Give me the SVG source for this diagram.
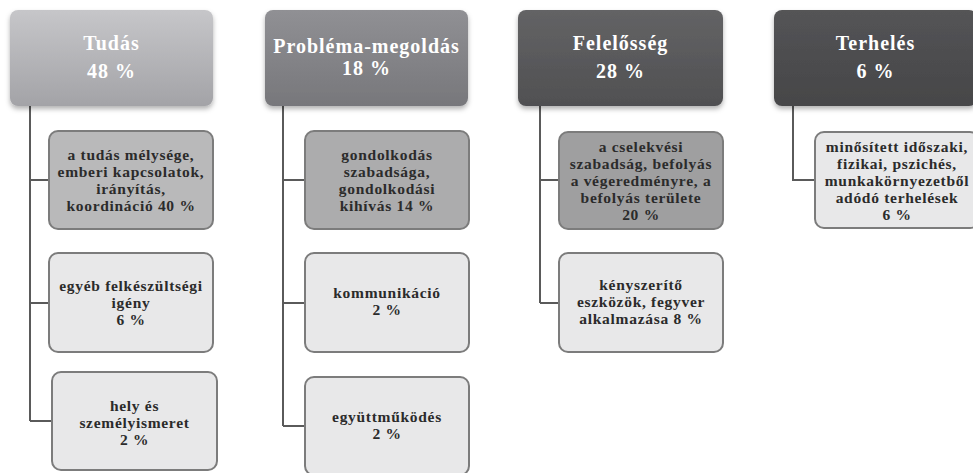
<svg xmlns="http://www.w3.org/2000/svg" width="973" height="473" viewBox="0 0 973 473">
<defs>
<linearGradient id="g1" x1="0" y1="0" x2="0" y2="1"><stop offset="0" stop-color="#c6c6c9"/><stop offset="1" stop-color="#a3a3a7"/></linearGradient>
<linearGradient id="g2" x1="0" y1="0" x2="0" y2="1"><stop offset="0" stop-color="#909094"/><stop offset="1" stop-color="#77777b"/></linearGradient>
<linearGradient id="g3" x1="0" y1="0" x2="0" y2="1"><stop offset="0" stop-color="#636365"/><stop offset="1" stop-color="#505052"/></linearGradient>
<linearGradient id="g4" x1="0" y1="0" x2="0" y2="1"><stop offset="0" stop-color="#545456"/><stop offset="1" stop-color="#464648"/></linearGradient>
<filter id="sh" x="-10%" y="-10%" width="120%" height="130%"><feDropShadow dx="0" dy="3" stdDeviation="2.5" flood-color="#000" flood-opacity="0.3"/></filter>
</defs>
<style>
.top{filter:url(#sh)}
.tt{font-family:"Liberation Serif",serif;font-weight:bold;font-size:20px;letter-spacing:1px;fill:#ffffff;text-anchor:middle}
.ct{font-family:"Liberation Serif",serif;font-weight:bold;font-size:15.5px;letter-spacing:0.7px;fill:#2b2b2b;text-anchor:middle}
.c{stroke:#7c7c7c;stroke-width:2}
.lite{fill:#e8e8e9}
.conn{fill:none;stroke:#5a5a5a;stroke-width:2}
</style>
<rect width="973" height="473" fill="#ffffff"/>
<g id="connectors">
<path class="conn" d="M30 106V421M30 180H49M30 303H49M30 421H52"/>
<path class="conn" d="M283 106V426M283 180H305M283 303H305M283 426H305"/>
<path class="conn" d="M540 106V303M540 180H559M540 303H559"/>
<path class="conn" d="M793 106V180H815"/>
</g>
<g id="tudas">
<rect class="top" x="10" y="10" width="203" height="96" rx="8" fill="url(#g1)"/>
<text class="tt" x="111.5" y="50">Tudás</text>
<text class="tt" x="111.5" y="78">48 %</text>
</g>
<g id="problema">
<rect class="top" x="265" y="10" width="203" height="96" rx="8" fill="url(#g2)"/>
<text class="tt" x="366.5" y="53">Probléma-megoldás</text>
<text class="tt" x="366.5" y="75">18 %</text>
</g>
<g id="felelosseg">
<rect class="top" x="518" y="10" width="205" height="96" rx="8" fill="url(#g3)"/>
<text class="tt" x="620.5" y="50">Felelősség</text>
<text class="tt" x="620.5" y="78">28 %</text>
</g>
<g id="terheles">
<rect class="top" x="774" y="10" width="203" height="96" rx="8" fill="url(#g4)"/>
<text class="tt" x="875.5" y="50">Terhelés</text>
<text class="tt" x="875.5" y="78">6 %</text>
</g>
<g id="tudas-1">
<rect class="c" x="49" y="131" width="164" height="98" rx="9" fill="#b9b9ba"/>
<text class="ct" x="131" y="160">a tudás mélysége,</text>
<text class="ct" x="131" y="177">emberi kapcsolatok,</text>
<text class="ct" x="131" y="194">irányítás,</text>
<text class="ct" x="131" y="211">koordináció 40 %</text>
</g>
<g id="tudas-2">
<rect class="c lite" x="49" y="253" width="164" height="99" rx="9"/>
<text class="ct" x="131" y="291">egyéb felkészültségi</text>
<text class="ct" x="131" y="308">igény</text>
<text class="ct" x="131" y="325">6 %</text>
</g>
<g id="tudas-3">
<rect class="c lite" x="52" y="372" width="165" height="98" rx="9"/>
<text class="ct" x="134.5" y="411">hely és</text>
<text class="ct" x="134.5" y="428">személyismeret</text>
<text class="ct" x="134.5" y="445">2 %</text>
</g>
<g id="problema-1">
<rect class="c" x="305" y="131" width="164" height="98" rx="9" fill="#acacad"/>
<text class="ct" x="387" y="160">gondolkodás</text>
<text class="ct" x="387" y="177">szabadsága,</text>
<text class="ct" x="387" y="194">gondolkodási</text>
<text class="ct" x="387" y="211">kihívás 14 %</text>
</g>
<g id="problema-2">
<rect class="c lite" x="305" y="253" width="164" height="99" rx="9"/>
<text class="ct" x="387" y="298">kommunikáció</text>
<text class="ct" x="387" y="315">2 %</text>
</g>
<g id="problema-3">
<rect class="c lite" x="305" y="377" width="164" height="98" rx="9"/>
<text class="ct" x="387" y="422">együttműködés</text>
<text class="ct" x="387" y="439">2 %</text>
</g>
<g id="felelosseg-1">
<rect class="c" x="559" y="132" width="164" height="97" rx="9" fill="#9f9fa0"/>
<text class="ct" x="641" y="152">a cselekvési</text>
<text class="ct" x="641" y="169">szabadság, befolyás</text>
<text class="ct" x="641" y="186">a végeredményre, a</text>
<text class="ct" x="641" y="203">befolyás területe</text>
<text class="ct" x="641" y="220">20 %</text>
</g>
<g id="felelosseg-2">
<rect class="c lite" x="559" y="253" width="164" height="99" rx="9"/>
<text class="ct" x="641" y="290">kényszerítő</text>
<text class="ct" x="641" y="307">eszközök, fegyver</text>
<text class="ct" x="641" y="324">alkalmazása  8 %</text>
</g>
<g id="terheles-1">
<rect class="c lite" x="815" y="132" width="164" height="96" rx="9"/>
<text class="ct" x="897" y="152">minősített időszaki,</text>
<text class="ct" x="897" y="169">fizikai, pszichés,</text>
<text class="ct" x="897" y="186">munkakörnyezetből</text>
<text class="ct" x="897" y="203">adódó terhelések</text>
<text class="ct" x="897" y="220">6 %</text>
</g>
</svg>
